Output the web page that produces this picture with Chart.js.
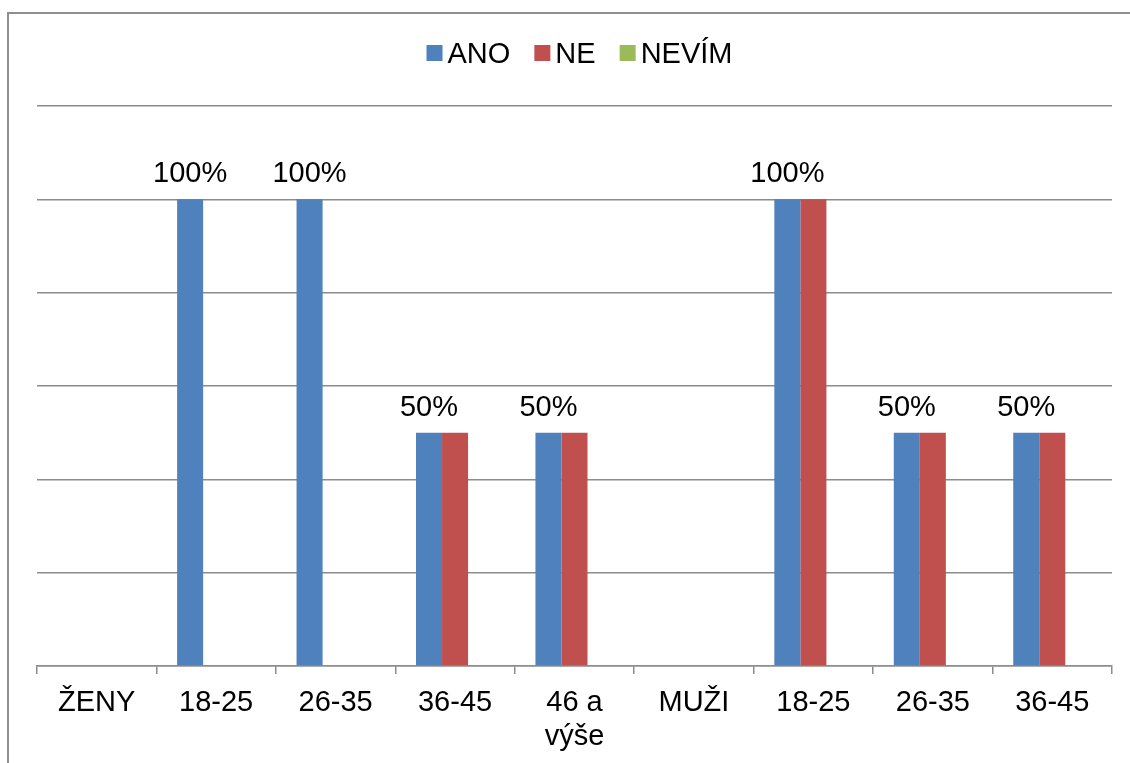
<!DOCTYPE html>
<html>
<head>
<meta charset="utf-8">
<script src="https://cdn.jsdelivr.net/npm/chart.js@4/dist/chart.umd.min.js"></script>
<style>
  html, body { margin: 0; padding: 0; background: #ffffff; }
  #wrap { width: 1130px; height: 763px; position: relative; }
</style>
</head>
<body>
<div id="wrap"><canvas id="chart" width="1130" height="763"></canvas></div>
<script>
// Categories (women / men by age group)
const categories = ['ŽENY', '18-25', '26-35', '36-45', ['46 a', 'výše'], 'MUŽI', '18-25', '26-35', '36-45'];
const seriesNames = ['ANO', 'NE', 'NEVÍM'];
// Shares per category (1 = 100 %)
const anoValues   = [null, 1, 1, 0.5, 0.5, null, 1, 0.5, 0.5];
const neValues    = [null, 0, 0, 0.5, 0.5, null, 1, 0.5, 0.5];
const nevimValues = [null, 0, 0, 0,   0,   null, 0, 0,   0];
const seriesColors = ['#4F81BD', '#C0504D', '#9BBB59'];
// Value axis range
const yMin = 0, yMax = 1.2, yStep = 0.2;

const FONT = '"Liberation Sans", Arial, sans-serif';
const FONT_SIZE = 29;
const GRID = '#8c8c8c';

// Outer frame (top and left edges)
const framePlugin = {
  id: 'frame',
  beforeDraw(chart) {
    const ctx = chart.ctx;
    ctx.save();
    ctx.strokeStyle = '#8e8e8e';
    ctx.lineWidth = 2;
    ctx.beginPath();
    ctx.moveTo(8, chart.height);
    ctx.lineTo(8, 13);
    ctx.lineTo(chart.width, 13);
    ctx.stroke();
    ctx.restore();
  }
};

// Legend row with small square markers
const legendPlugin = {
  id: 'squareLegend',
  afterDraw(chart) {
    const ctx = chart.ctx;
    ctx.save();
    ctx.font = FONT_SIZE + 'px ' + FONT;
    ctx.textBaseline = 'alphabetic';
    ctx.textAlign = 'left';
    const box = 16, gapText = 5, gapItem = 24;
    const items = chart.data.datasets.map(ds => ({ label: ds.label, color: ds.backgroundColor, w: ctx.measureText(ds.label).width }));
    const total = items.reduce((s, it) => s + box + gapText + it.w, 0) + gapItem * (items.length - 1);
    let x = 579.5 - total / 2;
    const baseline = 63;
    items.forEach(it => {
      ctx.fillStyle = it.color;
      ctx.fillRect(x, 45, box, box);
      x += box + gapText;
      ctx.fillStyle = '#000000';
      ctx.fillText(it.label, x, baseline);
      x += it.w + gapItem;
    });
    ctx.restore();
  }
};

// Percentage labels above the ANO bars
const valueLabelPlugin = {
  id: 'valueLabels',
  afterDatasetsDraw(chart) {
    const ctx = chart.ctx;
    const meta = chart.getDatasetMeta(0);
    const data = chart.data.datasets[0].data;
    ctx.save();
    ctx.font = FONT_SIZE + 'px ' + FONT;
    ctx.fillStyle = '#000000';
    ctx.textAlign = 'center';
    ctx.textBaseline = 'alphabetic';
    meta.data.forEach((bar, i) => {
      const v = data[i];
      if (v === null || v === 0) return;
      ctx.fillText(Math.round(v * 100) + '%', bar.x, bar.y - 17);
    });
    ctx.restore();
  }
};

new Chart(document.getElementById('chart'), {
  type: 'bar',
  data: {
    labels: categories,
    datasets: [
      { label: seriesNames[0], data: anoValues,   backgroundColor: seriesColors[0] },
      { label: seriesNames[1], data: neValues,    backgroundColor: seriesColors[1] },
      { label: seriesNames[2], data: nevimValues, backgroundColor: seriesColors[2] }
    ]
  },
  options: {
    responsive: false,
    animation: false,
    devicePixelRatio: 1,
    layout: { padding: { top: 106, left: 37, right: 18, bottom: 0 } },
    datasets: { bar: { barPercentage: 1, categoryPercentage: 0.654, borderWidth: 0 } },
    plugins: {
      legend: { display: false },
      tooltip: { enabled: false },
      title: { display: false }
    },
    scales: {
      x: {
        offset: true,
        afterFit(scale) { scale.height = 97; },
        grid: { display: true, drawOnChartArea: false, drawTicks: true, tickLength: 8, color: GRID, lineWidth: 1.5, offset: true },
        border: { display: true, color: GRID, width: 1.5 },
        ticks: {
          autoSkip: false, maxRotation: 0, minRotation: 0, padding: 12,
          color: '#000000',
          font: { family: FONT, size: FONT_SIZE, lineHeight: 1.18 }
        }
      },
      y: {
        min: yMin, max: yMax,
        ticks: { display: false, stepSize: yStep },
        grid: { color: GRID, lineWidth: 1.5, drawTicks: false },
        border: { display: false }
      }
    }
  },
  plugins: [framePlugin, legendPlugin, valueLabelPlugin]
});
</script>
</body>
</html>
